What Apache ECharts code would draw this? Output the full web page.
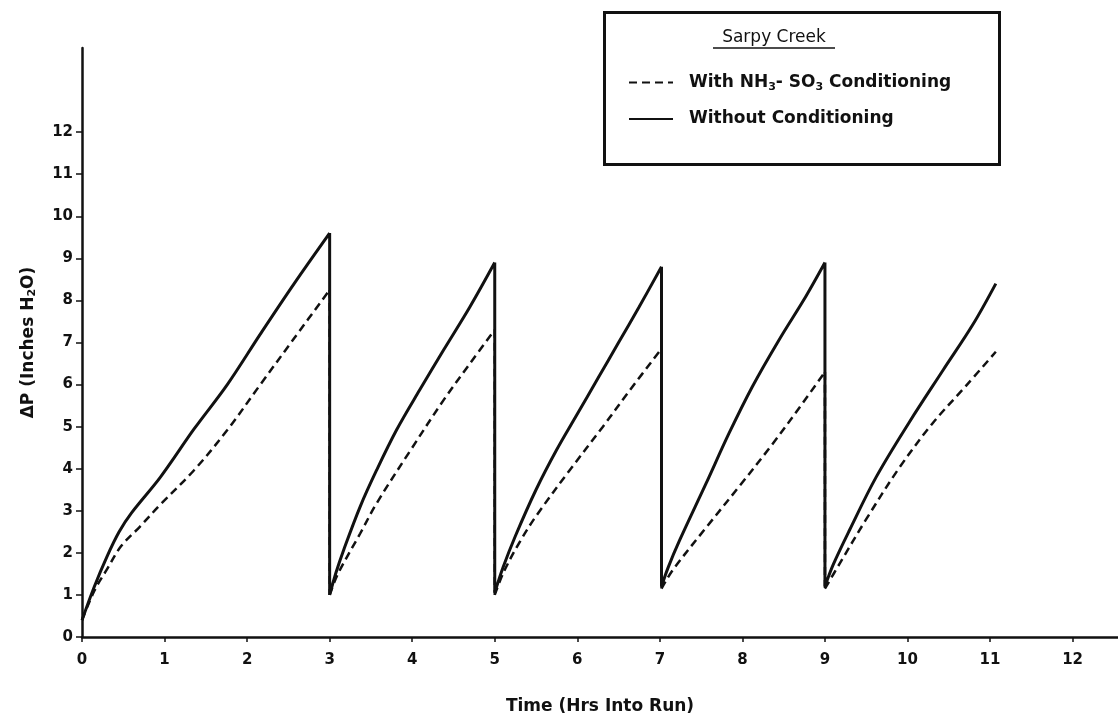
<!DOCTYPE html>
<html>
<head>
<meta charset="utf-8">
<script src="https://cdn.jsdelivr.net/npm/echarts@6/dist/echarts.min.js"></script>
<style>
  html, body { margin: 0; padding: 0; background: #fff; }
  #chart { width: 1118px; height: 721px; }
</style>
</head>
<body>
<div id="chart"></div>
<script>
// Pressure drop across the filter during cleaning cycles, Sarpy Creek.
// Hours into the run and ΔP (inches H2O); a repeated time marks a cleaning drop.
const withoutTime = [0, 0.15, 0.3, 0.45, 0.6, 0.95, 1.36, 1.76, 2.16, 2.57, 3.0,
  3.0, 3.08, 3.17, 3.37, 3.57, 3.81, 4.09, 4.38, 4.7, 5.0,
  5.0, 5.1, 5.25, 5.5, 5.75, 6.0, 6.25, 6.5, 6.75, 7.02,
  7.02, 7.1, 7.24, 7.56, 7.84, 8.12, 8.44, 8.77, 9.0,
  9.0, 9.1, 9.3, 9.62, 10.02, 10.43, 10.79, 11.07];
const withoutDp = [0.4, 1.2, 1.9, 2.5, 2.95, 3.8, 4.95, 6.0, 7.2, 8.4, 9.6,
  1.0, 1.55, 2.07, 3.1, 3.97, 4.92, 5.87, 6.82, 7.85, 8.9,
  1.05, 1.65, 2.4, 3.5, 4.45, 5.3, 6.15, 7.0, 7.85, 8.8,
  1.2, 1.65, 2.3, 3.65, 4.85, 5.95, 7.05, 8.1, 8.9,
  1.2, 1.72, 2.55, 3.8, 5.1, 6.34, 7.42, 8.4];

const withTime = [0, 0.15, 0.3, 0.47, 0.7, 0.95, 1.36, 1.76, 2.16, 2.57, 3.0,
  3.0, 3.1, 3.37, 3.57, 3.98, 4.38, 4.7, 5.0,
  5.0, 5.11, 5.3, 5.51, 5.91, 6.31, 6.63, 7.02,
  7.02, 7.16, 7.56, 7.97, 8.37, 8.69, 9.0,
  9.0, 9.18, 9.5, 9.9, 10.3, 10.7, 11.07];
const withDp = [0.4, 1.1, 1.6, 2.15, 2.62, 3.15, 3.97, 4.92, 6.0, 7.1, 8.25,
  1.0, 1.5, 2.46, 3.18, 4.44, 5.63, 6.5, 7.3,
  1.0, 1.55, 2.25, 2.9, 3.97, 5.0, 5.85, 6.85,
  1.15, 1.6, 2.6, 3.6, 4.6, 5.45, 6.3,
  1.15, 1.75, 2.8, 4.02, 5.07, 5.95, 6.78];

const xTicks = [0, 1, 2, 3, 4, 5, 6, 7, 8, 9, 10, 11, 12];
const yTicks = [0, 1, 2, 3, 4, 5, 6, 7, 8, 9, 10, 11, 12];

const seriesWith = 'With NH3- SO3 Conditioning';
const seriesWithout = 'Without Conditioning';
const legendTitle = 'Sarpy Creek';

// Each filling stretch is its own smoothed piece; the cleaning drop is a
// separate straight piece, so the smoothing never overshoots at a peak.
function pieces(ts, vs) {
  const out = [];
  for (let i = 0; i < ts.length; i++) {
    if (i > 0 && ts[i] === ts[i - 1]) {
      out.push([ts[i], '-']);
      out.push([ts[i - 1], vs[i - 1]]);
      out.push([ts[i], vs[i]]);
      out.push([ts[i], '-']);
    }
    out.push([ts[i], vs[i]]);
  }
  return out;
}

const FONT = 'DejaVu Sans';
const INK = '#111';

const chart = echarts.init(document.getElementById('chart'), null, { renderer: 'canvas' });

chart.setOption({
  backgroundColor: '#fff',
  animation: false,
  grid: { left: 82, right: 0, top: 48, bottom: 84, containLabel: false },
  xAxis: {
    type: 'value',
    min: 0,
    max: 12.55,
    name: 'Time (Hrs Into Run)',
    nameLocation: 'middle',
    nameGap: 61,
    nameTextStyle: { fontFamily: FONT, fontSize: 17, fontWeight: 'bold', color: INK },
    axisLine: { onZero: false, lineStyle: { color: INK, width: 2.5 } },
    axisTick: { show: true, length: 5, customValues: xTicks, lineStyle: { color: INK, width: 1.5 } },
    axisLabel: { customValues: xTicks, margin: 16, fontFamily: FONT, fontSize: 15, fontWeight: 'bold', color: INK },
    splitLine: { show: false }
  },
  yAxis: {
    type: 'value',
    min: 0,
    max: 14,
    name: 'ΔP (Inches H{sub|2}O)',
    nameLocation: 'middle',
    nameGap: 44,
    nameRotate: 90,
    nameTextStyle: {
      fontFamily: FONT, fontSize: 17, fontWeight: 'bold', color: INK,
      rich: { sub: { fontFamily: FONT, fontSize: 11, fontWeight: 'bold', color: INK, verticalAlign: 'bottom', padding: [7, 0, 0, 0] } }
    },
    axisLine: { onZero: false, lineStyle: { color: INK, width: 2.5 } },
    axisTick: { show: true, length: 6, customValues: yTicks, lineStyle: { color: INK, width: 1.5 } },
    axisLabel: { customValues: yTicks, margin: 9, fontFamily: FONT, fontSize: 15, fontWeight: 'bold', color: INK },
    splitLine: { show: false }
  },
  legend: {
    orient: 'vertical',
    left: 628,
    top: 74,
    padding: 0,
    itemWidth: 44,
    itemHeight: 14,
    itemGap: 18,
    itemStyle: { opacity: 0 },
    data: [seriesWith, seriesWithout],
    formatter: name => name === seriesWith
      ? 'With NH{sub|3}- SO{sub|3} Conditioning'
      : name,
    textStyle: {
      fontFamily: FONT, fontSize: 17, fontWeight: 'bold', color: INK, padding: [0, 0, 0, 11],
      rich: { sub: { fontFamily: FONT, fontSize: 11, fontWeight: 'bold', color: INK, verticalAlign: 'top', padding: [9, 0, 0, 0] } }
    }
  },
  graphic: [
    {
      type: 'rect',
      left: 602, top: 10,
      shape: { width: 395, height: 152 },
      style: { fill: 'none', stroke: INK, lineWidth: 3 },
      z: 10
    },
    {
      type: 'text',
      x: 774, y: 38,
      style: { text: legendTitle, fontFamily: FONT, fontSize: 17, fontWeight: 'normal', fill: INK, align: 'center', verticalAlign: 'middle' },
      z: 10
    },
    {
      type: 'line',
      shape: { x1: 713, y1: 48, x2: 835, y2: 48 },
      style: { stroke: INK, lineWidth: 1.5 },
      z: 10
    }
  ],
  series: [
    {
      name: seriesWith,
      type: 'line',
      data: pieces(withTime, withDp),
      symbol: 'none',
      smooth: 0.35,
      connectNulls: false,
      lineStyle: { color: INK, width: 2.5, type: [8, 5] },
      itemStyle: { color: INK },
      z: 3
    },
    {
      name: seriesWithout,
      type: 'line',
      data: pieces(withoutTime, withoutDp),
      symbol: 'none',
      smooth: 0.35,
      connectNulls: false,
      lineStyle: { color: INK, width: 3, type: 'solid' },
      itemStyle: { color: INK },
      z: 4
    }
  ]
});
</script>
</body>
</html>
